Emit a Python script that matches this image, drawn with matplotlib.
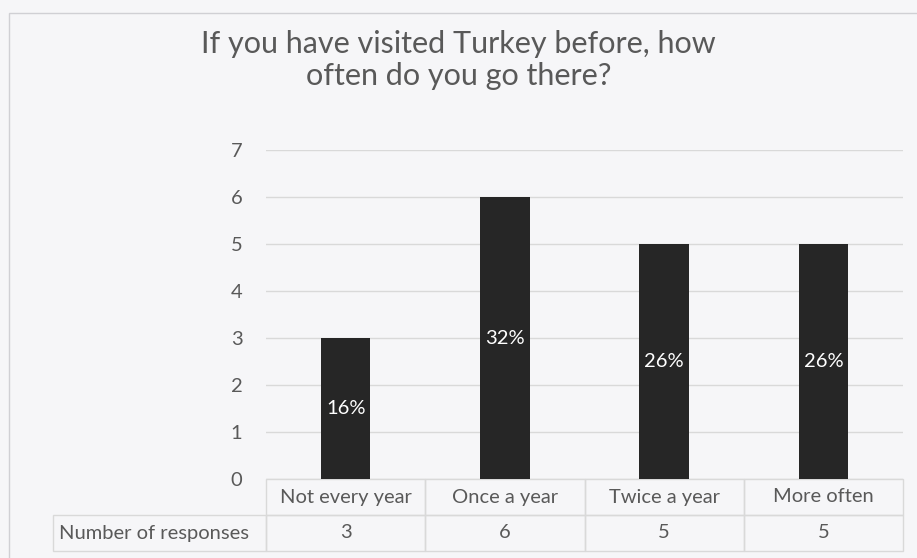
import matplotlib
matplotlib.use('Agg')
import matplotlib.pyplot as plt
from matplotlib.table import Table
from matplotlib.patches import Rectangle

# Данные опроса
categories = ['Not every year', 'Once a year', 'Twice a year', 'More often']
responses = [3, 6, 5, 5]
row_label = 'Number of responses'
title = 'If you have visited Turkey before, how\noften do you go there?'

text_color = '#595959'
grid_color = '#d9d9d9'
bar_color = '#262626'
bg_color = '#f6f6f8'

plt.rcParams['font.family'] = ['Lato', 'DejaVu Sans']

W, H = 917, 558
fig = plt.figure(figsize=(W / 100, H / 100), dpi=100, facecolor=bg_color)

# Рамка вокруг диаграммы (правый и нижний край за пределами картинки)
fig.patches.append(Rectangle((9 / W, -0.05), 1.1, (H - 13) / H + 0.05, transform=fig.transFigure,
                             fill=False, edgecolor='#d0d0d4', linewidth=1.0))

# Область построения (в пикселях)
x0, x1 = 266, 903
y_top, y_zero = 150, 479
ax = fig.add_axes([x0 / W, (H - y_zero) / H, (x1 - x0) / W, (y_zero - y_top) / H])
ax.set_facecolor('none')

x = range(len(categories))
ax.bar(x, responses, width=0.31, color=bar_color, zorder=3)

total = sum(responses)
for i, v in enumerate(responses):
    ax.text(i, v / 2, f'{round(v / total * 100)}%', ha='center', va='center',
            color='white', fontsize=14.5, zorder=4)

ax.set_xlim(-0.5, len(categories) - 0.5)
ax.set_ylim(0, 7)
ax.set_yticks(range(0, 8))
ax.yaxis.grid(True, color=grid_color, linewidth=1.0)
ax.set_axisbelow(True)
ax.set_xticks([])
ax.tick_params(axis='y', length=0, pad=17, labelsize=14.5, labelcolor=text_color)
for s in ax.spines.values():
    s.set_visible(False)

fig.text(0.5, (H - 60) / H, title, ha='center', va='center', fontsize=22,
         color=text_color, linespacing=1.15)

# Таблица данных под осью
row_h = 36 / (y_zero - y_top)
lab_w = (x0 - 53) / (x1 - x0)
col_w = 1.0 / len(categories)
tb = Table(ax, bbox=[0, -2 * row_h, 1, 2 * row_h])
for j, c in enumerate(categories):
    tb.add_cell(0, j, col_w, row_h, text=c, loc='center')
    tb.add_cell(1, j, col_w, row_h, text=str(responses[j]), loc='center')
tb.add_cell(1, -1, lab_w, row_h, text=row_label, loc='left')
for cell in tb.get_celld().values():
    cell.set_edgecolor(grid_color)
    cell.set_facecolor('none')
    cell.set_linewidth(1.0)
    cell.get_text().set_color(text_color)
    cell.PAD = 0.03
tb.auto_set_font_size(False)
tb.set_fontsize(14.5)
ax.add_table(tb)

plt.savefig('out.png', dpi=100, facecolor=bg_color)
plt.close()
